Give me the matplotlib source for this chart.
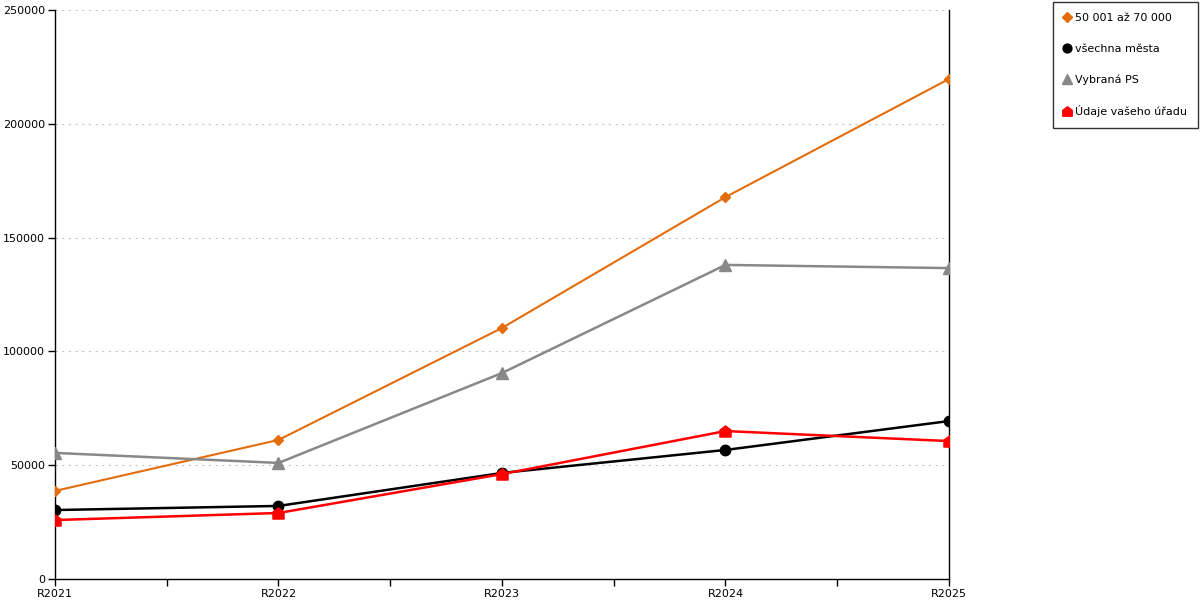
import numpy as np
import matplotlib.pyplot as plt
from matplotlib.path import Path

# Data
years = ['R2021', 'R2022', 'R2023', 'R2024', 'R2025']
skupina = [38700, 61100, 110300, 167800, 219700]      # 50 001 až 70 000
vsechna = [30300, 32100, 46600, 56700, 69400]         # všechna města
vybrana = [55400, 51000, 90500, 138000, 136600]       # Vybraná PS
urad = [25900, 29000, 46100, 65000, 60600]            # Údaje vašeho úřadu

# marker ve tvaru domecku
house = Path([(-1, -1), (1, -1), (1, 0.25), (0, 1), (-1, 0.25), (-1, -1)],
             [Path.MOVETO, Path.LINETO, Path.LINETO, Path.LINETO, Path.LINETO, Path.CLOSEPOLY])

plt.rcParams['font.family'] = ['DejaVu Sans']
fig = plt.figure(figsize=(12, 6), dpi=100)
ax = fig.add_axes([55 / 1200, 21 / 600, 894 / 1200, 569 / 600])

x = np.arange(len(years))
ax.plot(x, skupina, color='#E46C0A', lw=1.5, marker='D', ms=5.5, label='50 001 až 70 000', zorder=3)
ax.plot(x, vsechna, color='black', lw=1.8, marker='o', ms=7.5, label='všechna města', zorder=4)
ax.plot(x, vybrana, color='#888888', lw=1.8, marker='^', ms=8, label='Vybraná PS', zorder=3)
ax.plot(x, urad, color='#FF0000', lw=1.8, marker=house, ms=8, label='Údaje vašeho úřadu', zorder=5)

ax.set_xlim(0, 4)
ax.set_ylim(0, 250000)
ax.set_yticks(np.arange(0, 250001, 50000))
ax.set_xticks(x)
ax.set_xticklabels(years)
ax.set_xticks(x[:-1] + 0.5, minor=True)
ax.tick_params(axis='both', which='both', labelsize=8, length=5, width=1, direction='out', pad=2)

ax.yaxis.grid(True, linestyle=(0, (2, 4)), color='#C4C4C4', lw=0.8)
ax.set_axisbelow(True)
ax.spines['top'].set_visible(False)
for s in ['left', 'bottom', 'right']:
    ax.spines[s].set_linewidth(1)
    ax.spines[s].set_color('black')

leg = fig.legend(loc='upper right', bbox_to_anchor=(1198 / 1200, 1 - 2 / 600), fontsize=8,
                 frameon=True, fancybox=False, edgecolor='black', labelspacing=1.85,
                 handlelength=0.6, handletextpad=0.4, borderpad=1.0, borderaxespad=0,
                 markerscale=0.85)
leg.get_frame().set_linewidth(1)
for h in leg.get_lines():
    h.set_linestyle('none')

fig.savefig('out.png', dpi=100)
